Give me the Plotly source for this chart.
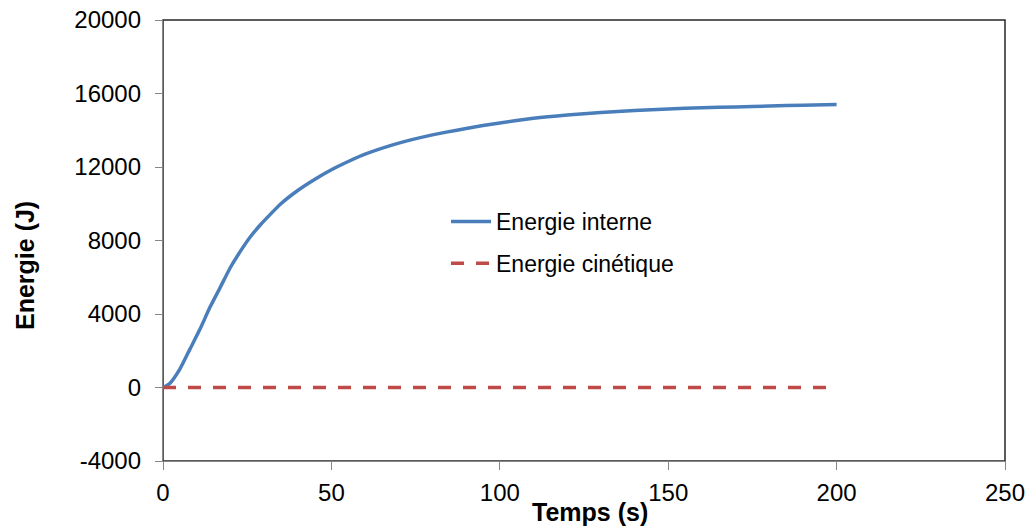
import plotly.graph_objects as go

# Data
temps = [0, 2, 5, 8, 11, 14, 17, 20, 23, 26, 29, 32, 35, 40, 45, 50, 55, 60, 70, 80,
         90, 100, 110, 120, 130, 140, 150, 160, 170, 180, 190, 200]
energie_interne = [0, 220, 1000, 2090, 3180, 4390, 5450, 6530, 7420, 8220, 8870, 9450,
                   10000, 10720, 11320, 11850, 12300, 12700, 13300, 13750, 14100,
                   14400, 14650, 14830, 14970, 15080, 15160, 15220, 15270, 15320,
                   15360, 15400]
temps_cin = [0, 200]
energie_cinetique = [0, 0]

x_ticks = [0, 50, 100, 150, 200, 250]
y_ticks = [-4000, 0, 4000, 8000, 12000, 16000, 20000]

# body margin removed via post_script; plot box at 163..1005 x 20..461
W, H = 1030, 532
L, T = 163, 20
PW, PH = 1005 - 163, 461 - 20
R, B = W - L - PW, H - T - PH


def fx(px):
    return (px - 163) / PW


def fy(py):
    return (461 - py) / PH


FAM = "Liberation Sans, Arial, sans-serif"
tick_font = dict(family=FAM, size=24, color="black")

fig = go.Figure()
fig.add_trace(go.Scatter(
    x=temps, y=energie_interne, mode="lines", name="Energie interne",
    line=dict(color="#4A7EBB", width=3.5, shape="spline", smoothing=0.5),
    legendgroup="a"))
fig.add_trace(go.Scatter(
    x=temps_cin, y=energie_cinetique, mode="lines", name="Energie cinétique",
    line=dict(color="#BE4B48", width=3.5, dash="13px,12px"),
    legendgroup="b"))

fig.update_layout(
    width=W, height=H,
    margin=dict(l=L, r=R, t=T, b=B, pad=0, autoexpand=False),
    paper_bgcolor="white", plot_bgcolor="white",
    font=tick_font,
    showlegend=True,
    legend=dict(x=fx(446), y=fy(200), xanchor="left", yanchor="top",
                font=dict(family=FAM, size=23, color="black"),
                bgcolor="rgba(0,0,0,0)", traceorder="grouped", tracegroupgap=9,
                itemwidth=40),
    xaxis=dict(range=[0, 250], tickvals=x_ticks, ticktext=[str(v) for v in x_ticks],
               showgrid=False, zeroline=False, showline=True, linecolor="#868686",
               linewidth=1.3, ticks="outside", ticklen=8, tickcolor="#868686",
               tickwidth=1.3, tickfont=tick_font, ticklabelstandoff=2, automargin=False,
               ticklabeloverflow="allow"),
    yaxis=dict(range=[-4000, 20000], tickvals=y_ticks, ticktext=[str(v) for v in y_ticks],
               showgrid=False, zeroline=False, showline=True, linecolor="#868686",
               linewidth=1.3, ticks="outside", ticklen=7, tickcolor="#868686",
               tickwidth=1.3, tickfont=tick_font, ticklabelstandoff=9, automargin=False,
               ticklabeloverflow="allow"),
)

# plot-area border (top and right appear dark)
fig.add_shape(type="rect", xref="paper", yref="paper", x0=0, x1=1, y0=0, y1=1,
              line=dict(color="#262626", width=1.5), layer="below")

fig.add_annotation(text="<b>Temps (s)</b>", xref="paper", yref="paper",
                   x=fx(590), y=fy(512),
                   xanchor="center", yanchor="middle", showarrow=False,
                   font=dict(family=FAM, size=25, color="black"))
fig.add_annotation(text="<b>Energie (J)</b>", xref="paper", yref="paper",
                   x=fx(25), y=fy(266),
                   xanchor="center", yanchor="middle", showarrow=False, textangle=-90,
                   font=dict(family=FAM, size=25, color="black"))

fig.write_html("out.html",
               config={"displayModeBar": False},
               post_script="document.body.style.margin='0';document.body.style.overflow='hidden';")
